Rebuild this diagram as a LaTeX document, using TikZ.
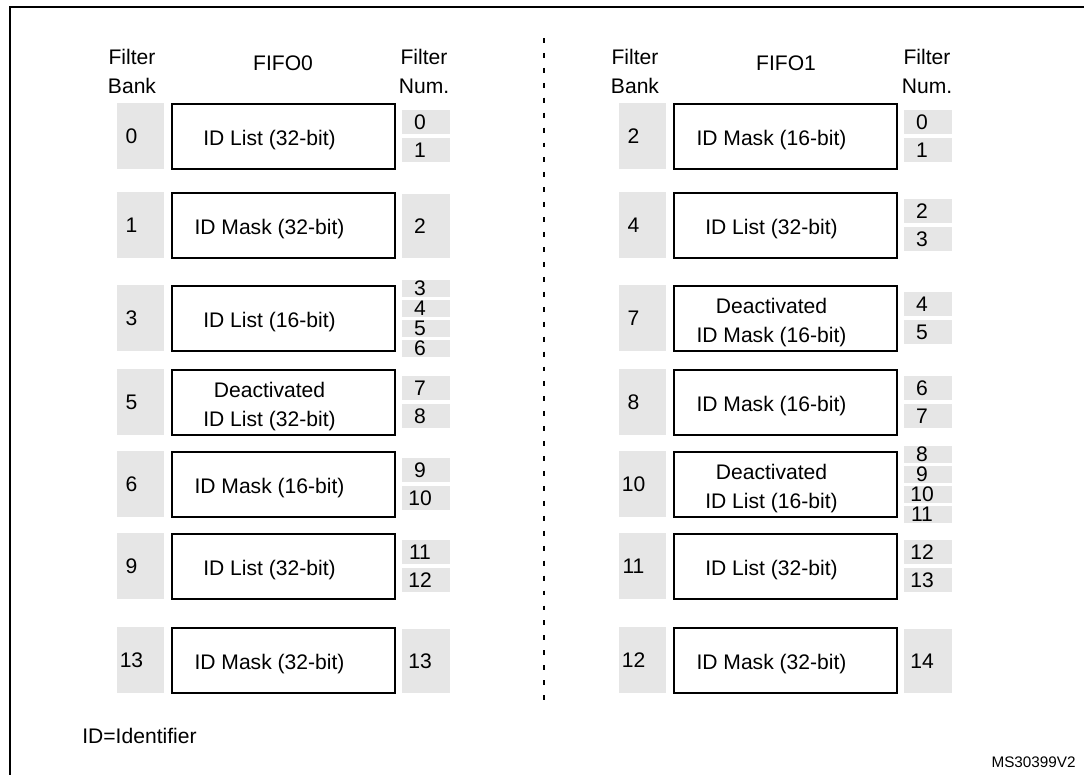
\documentclass[tikz,border=0pt]{standalone}
\usepackage{fontspec}
\setmainfont{Liberation Sans}
\usetikzlibrary{positioning, calc}
\definecolor{cellgray}{HTML}{E6E6E6}

\begin{document}
\begin{tikzpicture}[
  x=0.02cm, y=-0.02cm,
  every node/.style={font=\fontsize{12}{17}\selectfont, inner sep=0pt},
  frame/.style  = {line width=1.4pt},
  sep/.style    = {line width=0.6pt, dash pattern=on 2.8pt off 5.7pt},
  hdr/.style    = {align=center},
  bank/.style   = {fill=cellgray, minimum width=0.94cm, minimum height=1.32cm},
  filt/.style   = {draw, line width=1.1pt, minimum width=4.46cm, minimum height=1.30cm},
  numbox/.style = {fill=cellgray, minimum width=0.96cm},
]
  \useasboundingbox (0,0) rectangle (1084,774);
  \clip (0,0) rectangle (1084,774);
  \draw[frame] (10,7) rectangle (1110,800);

  % Two FIFO columns split by a dashed line.
  \coordinate (septop) at (544,38);
  \coordinate (sepbot) at (544,710);
  \draw[sep] (septop) -- (sepbot);

  \foreach \col/\fifo in {0/FIFO0, 1/FIFO1} {
    \pgfmathsetmacro\dx{503*\col}
    \node[hdr] (bankhdr\col) at (132+\dx,71.5) {Filter\\Bank};
    \node      (fifohdr\col) at (283+\dx,63)   {\fifo};
    \node[hdr] (numhdr\col)  at (424+\dx,71.5) {Filter\\Num.};
  }

  % Rows: column / top / bank / filter mode / slots / first filter number
  \foreach \col/\ty/\bk/\lbl/\slots/\first [count=\r] in {
      0/103/0/{ID List (32-bit)}/2/0,
      0/192/1/{ID Mask (32-bit)}/1/2,
      0/285/3/{ID List (16-bit)}/4/3,
      0/369/5/{Deactivated\\ID List (32-bit)}/2/7,
      0/451/6/{ID Mask (16-bit)}/2/9,
      0/533/9/{ID List (32-bit)}/2/11,
      0/627/13/{ID Mask (32-bit)}/1/13,
      1/103/2/{ID Mask (16-bit)}/2/0,
      1/192/4/{ID List (32-bit)}/2/2,
      1/285/7/{Deactivated\\ID Mask (16-bit)}/2/4,
      1/369/8/{ID Mask (16-bit)}/2/6,
      1/451/10/{Deactivated\\ID List (16-bit)}/4/8,
      1/533/11/{ID List (32-bit)}/2/12,
      1/627/12/{ID Mask (32-bit)}/1/14} {
    \pgfmathsetmacro\dx{502*\col}
    \node[bank] (bank\r)  at (140.5+\dx,\ty+33) {};
    \node       (bankt\r) at ($(bank\r)+(-9,0)$) {\bk};
    \node[filt] (filt\r)  at (283.5+\dx,\ty+33.5) {};
    \node[align=center] (filtt\r) at ($(filt\r)+(-14,4)$) {\lbl};
    \pgfmathsetmacro\hh{\slots==1 ? 64 : (\slots==2 ? 24 : 17)}
    \pgfmathsetmacro\hcm{\hh*0.02}
    \pgfmathsetmacro\gap{\slots==1 ? 0 : (\slots==2 ? 28 : 20)}
    \pgfmathsetmacro\off{\slots==1 ? 2 : (\slots==2 ? 7 : -5)}
    \foreach \i in {1,...,\slots} {
      \pgfmathtruncatemacro\m{\first+\i-1}
      \pgfmathsetmacro\yy{\ty+\off+(\i-1)*\gap+\hh/2}
      \node[numbox, minimum height=\hcm cm] (num\r-\i) at (426+\dx,\yy) {};
      \node (numt\r-\i) at ($(num\r-\i)+(-6,0)$) {\m};
    }
  }

  \node[anchor=west] (note) at (82,736) {ID=Identifier};
  \node[anchor=east, font=\fontsize{8.7}{10}\selectfont] (code) at (1076,762) {MS30399V2};
\end{tikzpicture}
\end{document}
